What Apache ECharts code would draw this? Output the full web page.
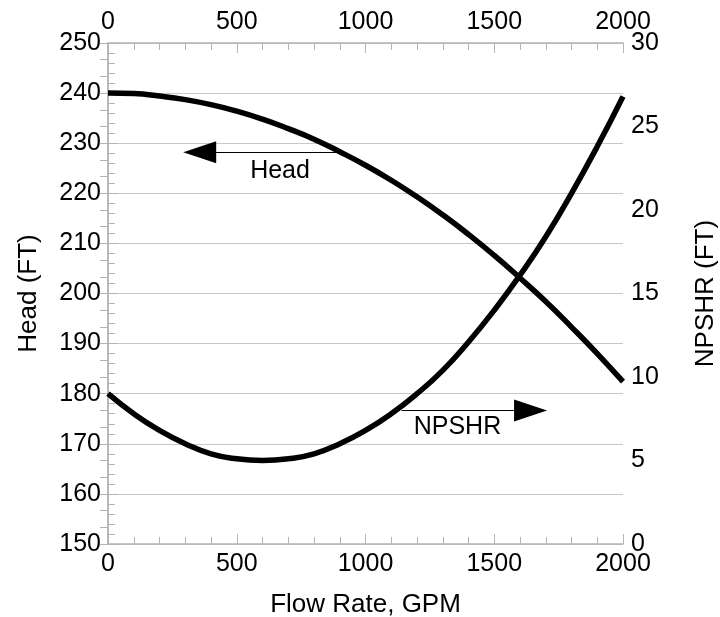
<!DOCTYPE html>
<html>
<head>
<meta charset="utf-8">
<script src="https://cdn.jsdelivr.net/npm/echarts@6/dist/echarts.min.js"></script>
<style>
  html, body { margin: 0; padding: 0; background: #fff; }
  #main { width: 720px; height: 617px; }
</style>
</head>
<body>
<div id="main"></div>
<script>
// values
var flowGpm = [0, 100, 200, 300, 400, 500, 600, 700, 800, 900, 1000,
  1100, 1200, 1300, 1400, 1500, 1600, 1700, 1800, 1900, 2000];
var headFt = [240.0, 239.9, 239.4, 238.7, 237.7, 236.4, 234.8, 232.9, 230.8, 228.3, 225.6,
  222.6, 219.3, 215.7, 211.8, 207.6, 203.1, 198.4, 193.3, 188.0, 182.4];
var npshrFt = [9.0, 7.8, 6.8, 6.0, 5.4, 5.1, 5.0, 5.1, 5.4, 6.0, 6.8,
  7.8, 9.0, 10.4, 12.1, 14.0, 16.1, 18.4, 21.0, 23.8, 26.8];

// arrow annotations: [from, to] in data units, plus label spot
var headArrow = [[888, 228.2], [356, 228.2]];
var headLabel = [668, 224.4];
var npshrArrow = [[1140, 8.0], [1641, 8.0]];
var npshrLabel = [1357, 7.0];

function pairs(xs, ys) {
  return xs.map(function (x, i) { return [x, ys[i]]; });
}

var chart = echarts.init(document.getElementById('main'));

var font = 'Liberation Sans, Arial, sans-serif';
var fs = 25;
var nameFs = 26;
var axisGray = '#b4b4b4';
var arrowHead = 'path://M11,0 L22,33 L0,33 Z';

function xAxisCfg(pos) {
  return {
    type: 'value',
    position: pos,
    min: 0,
    max: 2000,
    interval: 500,
    axisLine: { show: true, onZero: false, lineStyle: { color: axisGray, width: 1.5 } },
    axisTick: { show: true, inside: true, length: 10, lineStyle: { color: axisGray } },
    minorTick: { show: true, splitNumber: 5, length: 7, lineStyle: { color: axisGray } },
    axisLabel: { color: '#000', fontSize: fs, fontFamily: font, margin: 8,
      formatter: function (v) { return String(v); } },
    splitLine: { show: false }
  };
}

function arrowMark(line) {
  return {
    silent: true,
    symbol: ['none', arrowHead],
    symbolSize: 33,
    symbolKeepAspect: true,
    label: { show: false },
    lineStyle: { color: '#000', width: 1, type: 'solid', opacity: 1 },
    itemStyle: { color: '#000' },
    data: [[{ coord: line[0] }, { coord: line[1] }]]
  };
}

function textMark(pos, txt) {
  return {
    silent: true,
    symbol: 'circle',
    symbolSize: 1,
    itemStyle: { color: 'transparent' },
    label: { show: true, position: 'inside', color: '#000', fontSize: fs, fontFamily: font, formatter: txt },
    data: [{ coord: pos }]
  };
}

var option = {
  animation: false,
  grid: { left: 108, right: 97, top: 43, bottom: 73, outerBoundsMode: 'none', containLabel: false },
  xAxis: [
    Object.assign(xAxisCfg('bottom'), {
      name: 'Flow Rate, GPM',
      nameLocation: 'middle',
      nameGap: 48,
      nameTextStyle: { color: '#000', fontSize: nameFs, fontFamily: font }
    }),
    xAxisCfg('top')
  ],
  yAxis: [
    {
      type: 'value',
      position: 'left',
      min: 150,
      max: 250,
      interval: 10,
      name: 'Head (FT)',
      nameLocation: 'middle',
      nameGap: 66,
      nameTextStyle: { color: '#000', fontSize: nameFs, fontFamily: font },
      axisLine: { show: true, lineStyle: { color: axisGray, width: 1.5 } },
      axisTick: { show: true, inside: true, length: 10, lineStyle: { color: axisGray } },
      minorTick: { show: true, splitNumber: 5, length: 7, lineStyle: { color: axisGray } },
      axisLabel: { color: '#000', fontSize: fs, fontFamily: font, margin: 7 },
      splitLine: { show: true, lineStyle: { color: '#c8c8c8', width: 1.2 } }
    },
    {
      type: 'value',
      position: 'right',
      min: 0,
      max: 30,
      interval: 5,
      name: 'NPSHR (FT)',
      nameLocation: 'middle',
      nameGap: 70,
      nameTextStyle: { color: '#000', fontSize: nameFs, fontFamily: font },
      axisLine: { show: true, lineStyle: { color: axisGray, width: 1.5 } },
      axisTick: { show: true, inside: true, length: 8, lineStyle: { color: axisGray } },
      minorTick: { show: true, splitNumber: 5, length: 8, lineStyle: { color: axisGray } },
      axisLabel: { color: '#000', fontSize: fs, fontFamily: font, margin: 8 },
      splitLine: { show: false }
    }
  ],
  series: [
    {
      name: 'Head',
      type: 'line',
      xAxisIndex: 0,
      yAxisIndex: 0,
      data: pairs(flowGpm, headFt),
      smooth: true,
      showSymbol: false,
      lineStyle: { color: '#000', width: 5.5 },
      markLine: arrowMark(headArrow),
      markPoint: textMark(headLabel, 'Head')
    },
    {
      name: 'NPSHR',
      type: 'line',
      xAxisIndex: 0,
      yAxisIndex: 1,
      data: pairs(flowGpm, npshrFt),
      smooth: true,
      showSymbol: false,
      lineStyle: { color: '#000', width: 5.5 },
      markLine: arrowMark(npshrArrow),
      markPoint: textMark(npshrLabel, 'NPSHR')
    }
  ]
};

chart.setOption(option);
</script>
</body>
</html>
